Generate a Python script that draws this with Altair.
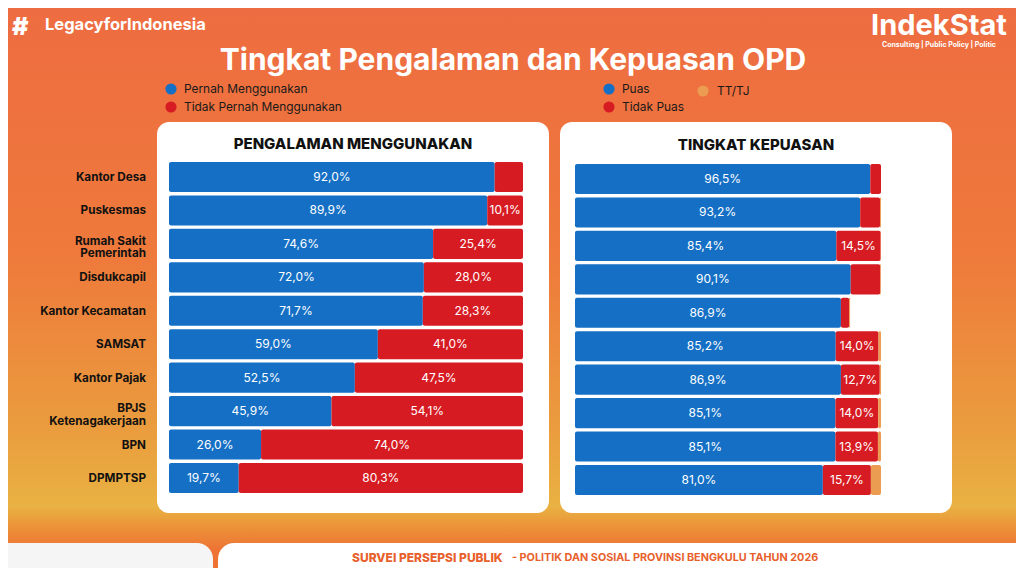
import altair as alt
import pandas as pd

# ---------------- data ----------------
categories = ["Kantor Desa", "Puskesmas", "Rumah Sakit Pemerintah", "Disdukcapil",
              "Kantor Kecamatan", "SAMSAT", "Kantor Pajak", "BPJS Ketenagakerjaan",
              "BPN", "DPMPTSP"]
category_labels = ["Kantor Desa", "Puskesmas", "Rumah Sakit\nPemerintah", "Disdukcapil",
                   "Kantor Kecamatan", "SAMSAT", "Kantor Pajak", "BPJS\nKetenagakerjaan",
                   "BPN", "DPMPTSP"]

pernah = [92.0, 89.9, 74.6, 72.0, 71.7, 59.0, 52.5, 45.9, 26.0, 19.7]
tidak_pernah = [8.0, 10.1, 25.4, 28.0, 28.3, 41.0, 47.5, 54.1, 74.0, 80.3]

puas = [96.5, 93.2, 85.4, 90.1, 86.9, 85.2, 86.9, 85.1, 85.1, 81.0]
tidak_puas = [3.5, 6.5, 14.5, 9.7, 2.7, 14.0, 12.7, 14.0, 13.9, 15.7]
tt_tj = [0.0, 0.3, 0.1, 0.2, 0.3, 0.8, 0.4, 0.9, 1.0, 3.3]

left_series = ["Pernah Menggunakan", "Tidak Pernah Menggunakan"]
right_series = ["Puas", "Tidak Puas", "TT/TJ"]

BLUE = "#1570C5"
RED = "#D71B22"
ORANGE = "#EC9C50"
FONT = "Inter"

W, H = 1008, 560
OX, OY = 8, 8


def X(v):
    return v - OX


def Y(v):
    return v - OY


def fmt(v):
    return f"{v:.1f}".replace(".", ",") + "%"


def stack_frame(series_names, series_values, threshold):
    rows = []
    for i, cat in enumerate(categories):
        start = 0.0
        for k, name in enumerate(series_names):
            v = series_values[k][i]
            rows.append({"cat": cat, "series": name, "start": start, "end": start + v,
                         "mid": start + v / 2, "label": fmt(v),
                         "show": bool(v >= threshold[k])})
            start += v
    return pd.DataFrame(rows)


dfL = stack_frame(left_series, [pernah, tidak_pernah], [0, 9.5])
dfR = stack_frame(right_series, [puas, tidak_puas, tt_tj], [0, 12.0, 1000])
dfC = pd.DataFrame({"cat": categories, "disp": category_labels})
dfC["multi"] = dfC["disp"].str.contains("\n")

one = alt.Data(values=[{"a": 1}])


def rect(x1, x2, y1, y2, fill, **kw):
    return alt.Chart(one).mark_rect(fill=fill, **kw).encode(
        x=alt.value(X(x1)), x2=alt.value(X(x2)), y=alt.value(Y(y1)), y2=alt.value(Y(y2)))


def txt(s, x, y, size, weight="normal", color="white", align="left", font=FONT):
    return alt.Chart(one).mark_text(text=s, fontSize=size, fontWeight=weight, color=color,
                                    align=align, baseline="middle", font=font).encode(
        x=alt.value(X(x)), y=alt.value(Y(y)))


def dot(x, y, color):
    return alt.Chart(one).mark_point(shape="circle", filled=True, size=125, color=color,
                                     opacity=1).encode(x=alt.value(X(x)), y=alt.value(Y(y)))


grad = alt.LinearGradient(
    gradient="linear", x1=0, x2=0, y1=0, y2=1,
    stops=[alt.GradientStop(color="#EE6C41", offset=0),
           alt.GradientStop(color="#EE7A3B", offset=0.45),
           alt.GradientStop(color="#EA9C3E", offset=0.75),
           alt.GradientStop(color="#E9B242", offset=0.89),
           alt.GradientStop(color="#EC8F38", offset=0.93),
           alt.GradientStop(color="#EE7234", offset=0.97),
           alt.GradientStop(color="#EE7234", offset=1)])

bg = alt.Chart(one).mark_rect(fill=grad).encode(
    x=alt.value(0), x2=alt.value(W), y=alt.value(0), y2=alt.value(H))

footer_grey = rect(0, 213, 543, 580, "#F5F5F5", cornerRadiusTopRight=16)
footer_white = rect(218, 1030, 543, 580, "#FFFFFF", cornerRadiusTopLeft=16)

panel_left = rect(157, 549, 122, 513, "#FFFFFF", cornerRadius=12)
panel_right = rect(560, 952, 122, 513, "#FFFFFF", cornerRadius=12)

texts = [
    txt("#", 12, 27, 25, 900),
    txt("LegacyforIndonesia", 45, 25, 16.5, "bold"),
    txt("IndekStat", 939, 26, 29, "bold", align="center"),
    txt("Consulting | Public Policy | Politic", 939, 45, 7, "bold", align="center"),
    txt("Tingkat Pengalaman dan Kepuasan OPD", 513, 61, 30, "bold", align="center"),
    txt("Pernah Menggunakan", 184, 89, 11.9, color="#1A1A1A"),
    txt("Tidak Pernah Menggunakan", 184, 107, 11.9, color="#1A1A1A"),
    txt("Puas", 622, 89, 11.9, color="#1A1A1A"),
    txt("TT/TJ", 717, 91, 11.9, color="#1A1A1A"),
    txt("Tidak Puas", 622, 107, 11.9, color="#1A1A1A"),
    txt("PENGALAMAN MENGGUNAKAN", 353, 144, 15, 800, color="#111111", align="center"),
    txt("TINGKAT KEPUASAN", 756, 145, 15, 800, color="#111111", align="center"),
    txt("SURVEI PERSEPSI PUBLIK", 352, 558, 12, 800, color="#E8602C"),
    txt("- POLITIK DAN SOSIAL PROVINSI BENGKULU TAHUN 2026", 512, 558, 10.8, "bold",
        color="#E8602C"),
    dot(171, 89, BLUE), dot(171, 107, RED),
    dot(609, 89, BLUE), dot(703, 91, ORANGE), dot(609, 107, RED),
]

# ---------------- left panel ----------------
xL = alt.Scale(domain=[0, 100], range=[X(169), X(523)])
yL = alt.Scale(domain=categories, range=[Y(162), Y(493)], paddingInner=0.1, paddingOuter=0)

left_bars = alt.Chart(dfL).mark_bar(cornerRadius=2).encode(
    x=alt.X("start:Q", scale=xL, axis=None),
    x2="end:Q",
    y=alt.Y("cat:N", scale=yL, sort=categories, axis=None),
    color=alt.Color("series:N", scale=alt.Scale(domain=left_series, range=[BLUE, RED]),
                    legend=None),
)
left_vals = alt.Chart(dfL).transform_filter("datum.show").mark_text(
    color="white", fontSize=12, font=FONT, baseline="middle", align="center").encode(
    x=alt.X("mid:Q", scale=xL, axis=None),
    y=alt.Y("cat:N", scale=yL, sort=categories, axis=None),
    text="label:N",
)
cat_style = dict(color="#111111", fontSize=11.7, fontWeight="bold", font=FONT, align="right",
                 baseline="middle", lineBreak="\n", lineHeight=12.5)
left_cats1 = alt.Chart(dfC).transform_filter("!datum.multi").mark_text(**cat_style).encode(
    x=alt.value(X(146)),
    y=alt.Y("cat:N", scale=yL, sort=categories, axis=None),
    text="disp:N",
)
left_cats2 = alt.Chart(dfC).transform_filter("datum.multi").mark_text(dy=-3, **cat_style).encode(
    x=alt.value(X(146)),
    y=alt.Y("cat:N", scale=yL, sort=categories, axis=None),
    text="disp:N",
)
left = alt.layer(left_bars, left_vals, left_cats1, left_cats2)

# ---------------- right panel ----------------
xR = alt.Scale(domain=[0, 100], range=[X(575), X(881)])
yR = alt.Scale(domain=categories, range=[Y(164), Y(495)], paddingInner=0.1, paddingOuter=0)

right_bars = alt.Chart(dfR).mark_bar(cornerRadius=2).encode(
    x=alt.X("start:Q", scale=xR, axis=None),
    x2="end:Q",
    y=alt.Y("cat:N", scale=yR, sort=categories, axis=None),
    color=alt.Color("series:N",
                    scale=alt.Scale(domain=right_series, range=[BLUE, RED, ORANGE]),
                    legend=None),
)
right_vals = alt.Chart(dfR).transform_filter("datum.show").mark_text(
    color="white", fontSize=12, font=FONT, baseline="middle", align="center").encode(
    x=alt.X("mid:Q", scale=xR, axis=None),
    y=alt.Y("cat:N", scale=yR, sort=categories, axis=None),
    text="label:N",
)
right = alt.layer(right_bars, right_vals)

chart = alt.layer(
    bg, footer_grey, footer_white, panel_left, panel_right, *texts, left, right
).resolve_scale(
    x="independent", y="independent", color="independent"
).properties(
    width=W, height=H, autosize="none", padding=0
).configure_view(stroke=None)

chart.save("out.html", embed_options={"renderer": "svg", "actions": False})
